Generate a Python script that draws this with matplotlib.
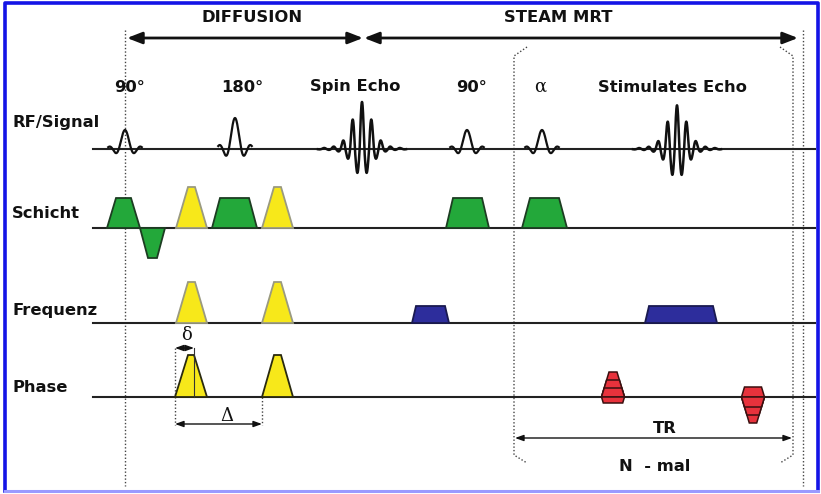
import matplotlib
matplotlib.use("Agg")
import matplotlib.pyplot as plt
from matplotlib.patches import Polygon
import numpy as np

# --- sequence data (time axis in px of the drawing, amplitudes in px) ---
row_names = ["RF/Signal", "Schicht", "Frequenz", "Phase"]
row_base = [149, 228, 323, 397]

# RF pulses: centre, amplitude
rf_centres = [125, 235, 467, 542]
rf_amps = [19, 31, 19, 19]
rf_labels = ["90°", "180°", "90°", "α"]
rf_label_x = [130, 242, 472, 540]

# echoes: centre, up amplitude, down amplitude
echo_centres = [362, 677]
echo_up = [42, 39]
echo_down = [24, 26]
echo_labels = ["Spin Echo", "Stimulates Echo"]
echo_label_x = [355, 672]

# gradient trapezoids: start, end, ramp, amplitude, kind
schicht = [(107, 140, 9, 30, "g"), (140, 165, 8, -30, "g"),
           (176, 207, 12, 41, "y"), (212, 257, 8, 30, "g"),
           (262, 293, 12, 41, "y"), (446, 489, 7, 30, "g"),
           (522, 567, 8, 30, "g")]
frequenz = [(176, 207, 12, 41, "y"), (262, 293, 12, 41, "y"),
            (412, 449, 4, 17, "b"), (645, 717, 4, 17, "b")]
phase = [(175, 207, 13, 42, "yd"), (262, 293, 12, 42, "yd")]

# phase encoding tables: centre, amplitudes
table_centres = [613, 753]
table_amps = [[25, 17, 9, -6], [10, -26, -18, -10]]

styles = {"g": ("#23a83a", "#1d3d22"), "y": ("#f7e81a", "#9a9a80"),
          "yd": ("#f7e81a", "#2a2a10"), "b": ("#2d2d9c", "#1a1a50"),
          "r": ("#e8323c", "#3a1010")}

fig = plt.figure(figsize=(8.21, 4.94), dpi=100)
ax = fig.add_axes([0, 0, 1, 1])
ax.set_xlim(0, 821)
ax.set_ylim(494, 0)
ax.axis("off")

bold = dict(fontsize=11.8, fontweight="bold", color="#111111",
            family="DejaVu Sans")
serif = dict(fontsize=13, color="#111111", family="DejaVu Serif")

# frame
ax.plot([5, 5, 818, 818], [491, 3, 3, 491], color="#1414e6", lw=2.6)
ax.plot([5, 818], [491, 491], color="#9a9aff", lw=2.2)

# baselines and row labels
for name, yb in zip(row_names, row_base):
    ax.plot([93, 815], [yb, yb], color="#222222", lw=1.5, zorder=2)
ax.text(12, 122, row_names[0], va="center", **bold)
ax.text(12, 213, row_names[1], va="center", **bold)
ax.text(12, 310, row_names[2], va="center", **bold)
ax.text(12, 387, row_names[3], va="center", **bold)


def trap(x0, x1, ramp, amp, yb, kind):
    fc, ec = styles[kind]
    pts = [(x0, yb), (x0 + ramp, yb - amp), (x1 - ramp, yb - amp), (x1, yb)]
    ax.add_patch(Polygon(pts, closed=True, fc=fc, ec=ec, lw=1.3, zorder=3))


for rows, yb in [(schicht, row_base[1]), (frequenz, row_base[2]),
                 (phase, row_base[3])]:
    for x0, x1, ramp, amp, kind in rows:
        trap(x0, x1, ramp, amp, yb, kind)

# delta marker inside first phase lobe
ax.plot([194, 194], [348, row_base[3]], color="#333333", lw=0.8, zorder=4)

# phase tables
for xc, amps in zip(table_centres, table_amps):
    order = sorted(amps, key=lambda a: -abs(a))
    for a in order:
        hw = 11.5
        tw = hw - 0.3 * abs(a)
        yb = row_base[3]
        pts = [(xc - hw, yb), (xc - tw, yb - a), (xc + tw, yb - a), (xc + hw, yb)]
        ax.add_patch(Polygon(pts, closed=True, fc=styles["r"][0],
                             ec=styles["r"][1], lw=1.1, zorder=3))

# RF sinc pulses
for xc, a in zip(rf_centres, rf_amps):
    t = np.linspace(-2.7, 2.7, 300)
    ax.plot(xc + t * 6.2, row_base[0] - a * np.sinc(t), color="#111111",
            lw=1.6, zorder=4)

# echoes
for xc, up, dn in zip(echo_centres, echo_up, echo_down):
    x = np.linspace(-44, 44, 800)
    env = np.exp(-(x / 13.0) ** 2) + 0.12 * np.exp(-(x / 30.0) ** 2)
    s = env * np.cos(2 * np.pi * x / 9.5)
    y = np.where(s > 0, s * up, s * dn)
    ax.plot(xc + x, row_base[0] - y, color="#111111", lw=1.8, zorder=4)

for lab, xl in zip(rf_labels, rf_label_x):
    if lab == "α":
        ax.text(xl, 87, lab, ha="center", va="center", **serif)
    else:
        ax.text(xl, 87, lab, ha="center", va="center", **bold)
for lab, xl in zip(echo_labels, echo_label_x):
    ax.text(xl, 87, lab, ha="center", va="center", **bold)

# section headers and arrows
ax.text(252, 17, "DIFFUSION", ha="center", va="center", **bold)
ax.text(558, 18, "STEAM MRT", ha="center", va="center", **bold)
big = dict(arrowstyle="<|-|>,head_length=0.9,head_width=0.35", color="#111111",
           lw=2.0, shrinkA=0, shrinkB=0)
ax.annotate("", xy=(363, 38), xytext=(127, 38), arrowprops=big)
ax.annotate("", xy=(798, 38), xytext=(364, 38), arrowprops=big)

# dotted verticals
dot = dict(color="#444444", lw=1.0, ls=(0, (1, 1.5)), zorder=1)
ax.plot([125, 125], [30, 486], **dot)
ax.plot([803, 803], [30, 486], **dot)
ax.plot([527, 514, 514, 527], [47, 56, 455, 463], **dot)
ax.plot([780, 793, 793, 780], [47, 56, 455, 463], **dot)
ax.plot([175, 175], [348, 425], **dot)
ax.plot([262, 262], [397, 425], **dot)

# small dimension arrows
thin = dict(arrowstyle="<|-|>,head_length=0.5,head_width=0.18", color="#111111",
            lw=1.0, shrinkA=0, shrinkB=0)
ax.annotate("", xy=(194, 348), xytext=(175, 348), arrowprops=thin)
ax.annotate("", xy=(262, 424), xytext=(175, 424), arrowprops=thin)
ax.annotate("", xy=(792, 438), xytext=(515, 438), arrowprops=thin)
ax.text(186, 335, "δ", ha="center", va="center", **serif)
ax.text(227, 416, "Δ", ha="center", va="center", **serif)
ax.text(665, 428, "TR", ha="center", va="center", **bold)
ax.text(655, 466, "N  - mal", ha="center", va="center", **bold)

fig.savefig("out.png", dpi=100)
